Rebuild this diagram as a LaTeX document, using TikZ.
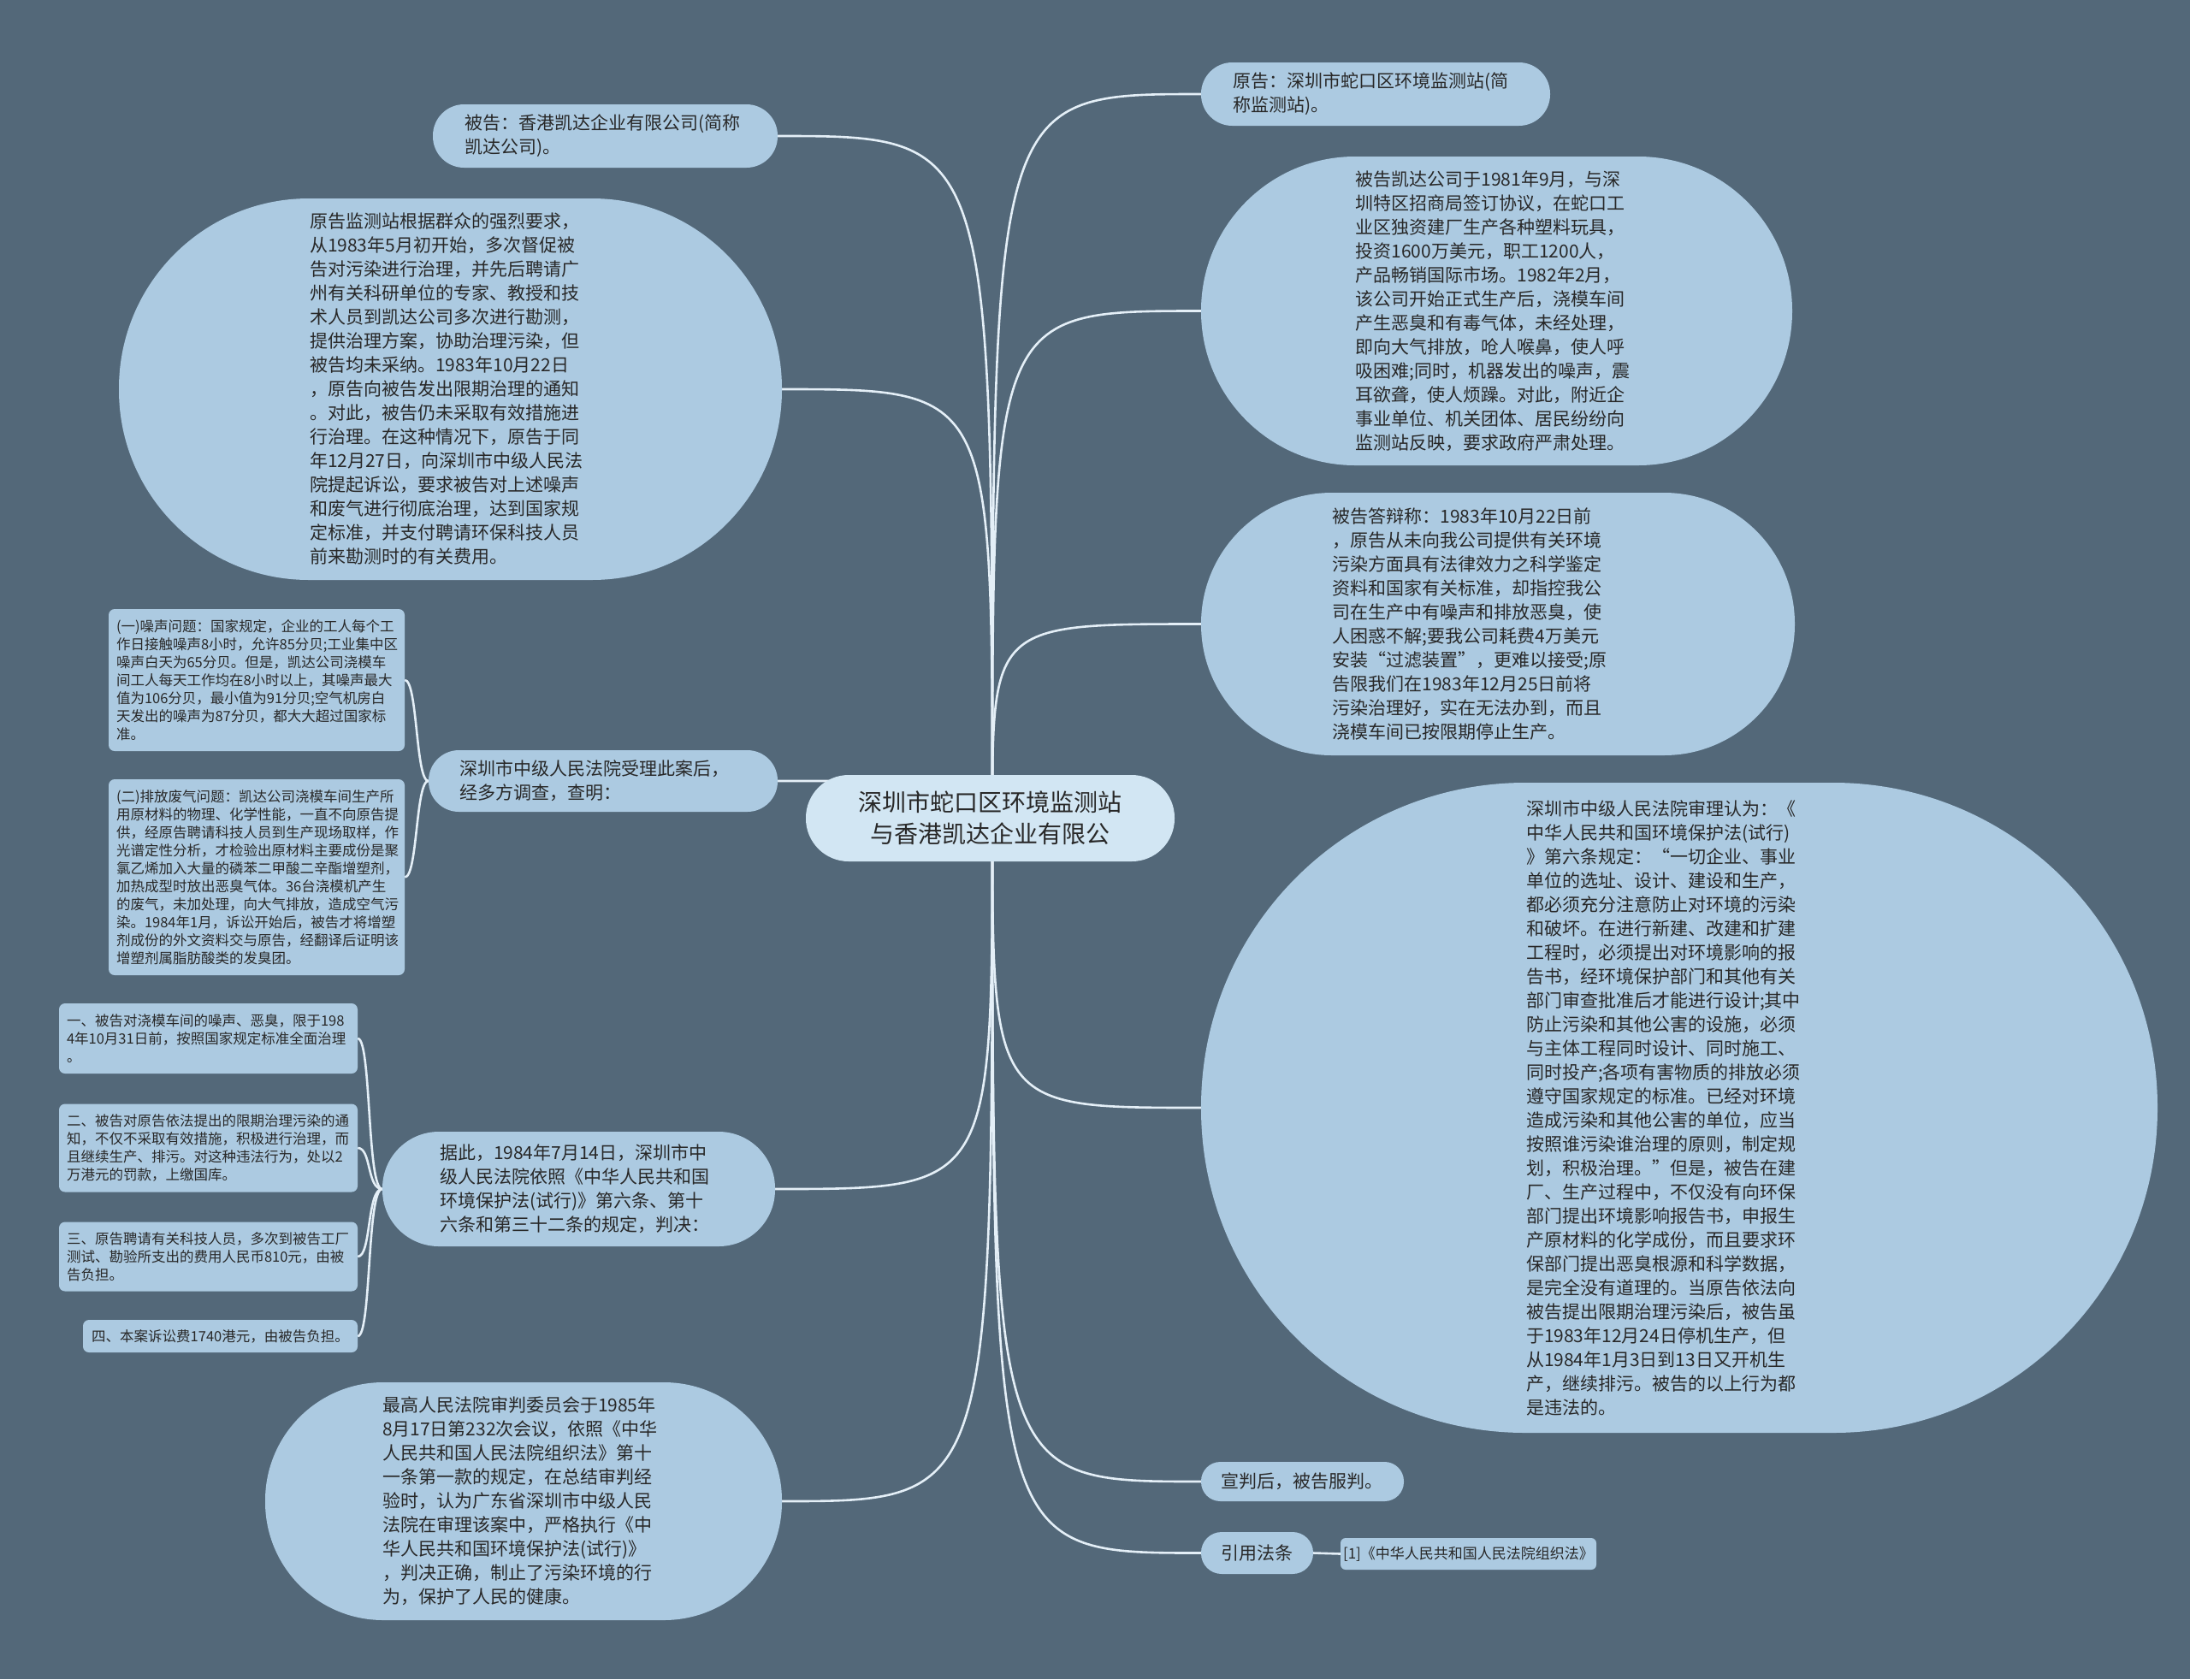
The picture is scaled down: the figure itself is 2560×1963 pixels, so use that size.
\documentclass[tikz,border=0pt]{standalone}
\usepackage{fontspec}
\setmainfont{Noto Sans CJK SC}
\pgfdeclarelayer{bg}
\pgfsetlayers{bg,main}
\definecolor{bgc}{RGB}{83,104,121}
\definecolor{nodefill}{RGB}{172,202,225}
\definecolor{centerfill}{RGB}{210,230,243}
\definecolor{txt}{RGB}{40,40,40}
\definecolor{linec}{RGB}{228,239,247}
\begin{document}
\begin{tikzpicture}[x=1pt,y=-1pt,
  pill/.style={rectangle, fill=nodefill, text=txt, inner sep=0pt, align=left,
    font=\fontsize{21}{28}\selectfont},
  box/.style={rectangle, rounded corners=7pt, fill=nodefill, text=txt, inner sep=0pt,
    align=left, font=\fontsize{16.5}{21}\selectfont},
  conn/.style={draw=linec, line width=2.6pt}]
\useasboundingbox (0,0) rectangle (2560,1963);

% center
\node[pill, fill=centerfill, align=center, rounded corners=50pt, minimum width=431pt, minimum height=101pt,
  font=\fontsize{28}{37}\selectfont] (center) at (1157.5,956.5)
  {深圳市蛇口区环境监测站\\与香港凯达企业有限公};

% right side
\node[pill, rounded corners=36.5pt, minimum width=408pt, minimum height=74pt, text width=334pt] (yuangao) at (1608,110)
  {原告：深圳市蛇口区环境监测站(简\\称监测站)。};
\node[pill, rounded corners=180pt, minimum width=691pt, minimum height=361pt, text width=330pt] (kaida) at (1749.5,363.5)
  {被告凯达公司于1981年9月，与深\\圳特区招商局签订协议，在蛇口工\\业区独资建厂生产各种塑料玩具，\\投资1600万美元，职工1200人，\\产品畅销国际市场。1982年2月，\\该公司开始正式生产后，浇模车间\\产生恶臭和有毒气体，未经处理，\\即向大气排放，呛人喉鼻，使人呼\\吸困难;同时，机器发出的噪声，震\\耳欲聋，使人烦躁。对此，附近企\\事业单位、机关团体、居民纷纷向\\监测站反映，要求政府严肃处理。};
\node[pill, rounded corners=153pt, minimum width=694pt, minimum height=307pt, text width=387pt] (dabian) at (1751,729.5)
  {被告答辩称：1983年10月22日前\\，原告从未向我公司提供有关环境\\污染方面具有法律效力之科学鉴定\\资料和国家有关标准，却指控我公\\司在生产中有噪声和排放恶臭，使\\人困惑不解;要我公司耗费4万美元\\安装“过滤装置”，更难以接受;原\\告限我们在1983年12月25日前将\\污染治理好，实在无法办到，而且\\浇模车间已按限期停止生产。};
\node[pill, rounded corners=379pt, minimum width=1118pt, minimum height=760pt, text width=358pt] (bigright) at (1963,1295)
  {深圳市中级人民法院审理认为：《\\中华人民共和国环境保护法(试行)\\》第六条规定：“一切企业、事业\\单位的选址、设计、建设和生产，\\都必须充分注意防止对环境的污染\\和破坏。在进行新建、改建和扩建\\工程时，必须提出对环境影响的报\\告书，经环境保护部门和其他有关\\部门审查批准后才能进行设计;其中\\防止污染和其他公害的设施，必须\\与主体工程同时设计、同时施工、\\同时投产;各项有害物质的排放必须\\遵守国家规定的标准。已经对环境\\造成污染和其他公害的单位，应当\\按照谁污染谁治理的原则，制定规\\划，积极治理。”但是，被告在建\\厂、生产过程中，不仅没有向环保\\部门提出环境影响报告书，申报生\\产原材料的化学成份，而且要求环\\保部门提出恶臭根源和科学数据，\\是完全没有道理的。当原告依法向\\被告提出限期治理污染后，被告虽\\于1983年12月24日停机生产，但\\从1984年1月3日到13日又开机生\\产，继续排污。被告的以上行为都\\是违法的。};
\node[pill, rounded corners=22.5pt, minimum width=237pt, minimum height=46pt, text width=191pt] (xuanpan) at (1522.5,1732)
  {宣判后，被告服判。};
\node[pill, rounded corners=24pt, minimum width=131pt, minimum height=49pt, text width=84pt] (yinyong) at (1469.5,1815.5)
  {引用法条};
\node[box, rounded corners=6pt, minimum width=299pt, minimum height=37pt, font=\fontsize{17}{21}\selectfont] (ref1) at (1716.5,1816.5)
  {[1]《中华人民共和国人民法院组织法》};

% left side
\node[pill, rounded corners=36.5pt, minimum width=403pt, minimum height=74pt, text width=329pt] (beigao) at (707.5,159)
  {被告：香港凯达企业有限公司(简称\\凯达公司)。};
\node[pill, rounded corners=222pt, minimum width=775pt, minimum height=446pt, text width=329pt] (leftell) at (526.5,455)
  {原告监测站根据群众的强烈要求，\\从1983年5月初开始，多次督促被\\告对污染进行治理，并先后聘请广\\州有关科研单位的专家、教授和技\\术人员到凯达公司多次进行勘测，\\提供治理方案，协助治理污染，但\\被告均未采纳。1983年10月22日\\，原告向被告发出限期治理的通知\\。对此，被告仍未采取有效措施进\\行治理。在这种情况下，原告于同\\年12月27日，向深圳市中级人民法\\院提起诉讼，要求被告对上述噪声\\和废气进行彻底治理，达到国家规\\定标准，并支付聘请环保科技人员\\前来勘测时的有关费用。};
\node[pill, rounded corners=35.5pt, minimum width=408pt, minimum height=72pt, text width=336pt] (shencha) at (705,913)
  {深圳市中级人民法院受理此案后，\\经多方调查，查明：};
\node[box, minimum width=346pt, minimum height=166pt, text width=328pt] (n1) at (300,795)
  {(一)噪声问题：国家规定，企业的工人每个工\\作日接触噪声8小时，允许85分贝;工业集中区\\噪声白天为65分贝。但是，凯达公司浇模车\\间工人每天工作均在8小时以上，其噪声最大\\值为106分贝，最小值为91分贝;空气机房白\\天发出的噪声为87分贝，都大大超过国家标\\准。};
\node[box, minimum width=346pt, minimum height=229pt, text width=328pt] (n2) at (300,1025.5)
  {(二)排放废气问题：凯达公司浇模车间生产所\\用原材料的物理、化学性能，一直不向原告提\\供，经原告聘请科技人员到生产现场取样，作\\光谱定性分析，才检验出原材料主要成份是聚\\氯乙烯加入大量的磷苯二甲酸二辛酯增塑剂，\\加热成型时放出恶臭气体。36台浇模机产生\\的废气，未加处理，向大气排放，造成空气污\\染。1984年1月，诉讼开始后，被告才将增塑\\剂成份的外文资料交与原告，经翻译后证明该\\增塑剂属脂肪酸类的发臭团。};
\node[pill, rounded corners=66pt, minimum width=459pt, minimum height=134pt, text width=325pt] (judge) at (676.5,1390)
  {据此，1984年7月14日，深圳市中\\级人民法院依照《中华人民共和国\\环境保护法(试行)》第六条、第十\\六条和第三十二条的规定，判决：};
\node[box, minimum width=349pt, minimum height=82pt, text width=331pt] (j1) at (243.5,1214)
  {一、被告对浇模车间的噪声、恶臭，限于198\\4年10月31日前，按照国家规定标准全面治理\\。};
\node[box, minimum width=349pt, minimum height=103pt, text width=331pt] (j2) at (243.5,1342)
  {二、被告对原告依法提出的限期治理污染的通\\知，不仅不采取有效措施，积极进行治理，而\\且继续生产、排污。对这种违法行为，处以2\\万港元的罚款，上缴国库。};
\node[box, minimum width=349pt, minimum height=81pt, text width=331pt] (j3) at (243.5,1469)
  {三、原告聘请有关科技人员，多次到被告工厂\\测试、勘验所支出的费用人民币810元，由被\\告负担。};
\node[box, minimum width=321pt, minimum height=38pt] (j4) at (257.5,1562)
  {四、本案诉讼费1740港元，由被告负担。};
\node[pill, rounded corners=138pt, minimum width=604pt, minimum height=278pt, text width=330pt] (supreme) at (612,1755)
  {最高人民法院审判委员会于1985年\\8月17日第232次会议，依照《中华\\人民共和国人民法院组织法》第十\\一条第一款的规定，在总结审判经\\验时，认为广东省深圳市中级人民\\法院在审理该案中，严格执行《中\\华人民共和国环境保护法(试行)》\\，判决正确，制止了污染环境的行\\为，保护了人民的健康。};

% background and connectors (behind the nodes)
\coordinate (c0) at (1160,957);
\begin{pgfonlayer}{bg}
\fill[bgc] (0,0) rectangle (2560,1963);
\foreach \r in {yuangao,kaida,dabian,bigright,xuanpan,yinyong}
  \draw[conn] (c0) .. controls (c0 |- \r.west) .. (\r.west);
\foreach \l in {beigao,leftell,shencha,judge,supreme}
  \draw[conn] (c0) .. controls (c0 |- \l.east) .. (\l.east);
\foreach \k in {n1,n2}
  \draw[conn] (shencha.west) .. controls +(-15,0) and +(15,0) .. (\k.east);
\foreach \k in {j1,j2,j3,j4}
  \draw[conn] (judge.west) .. controls +(-18,0) and +(16,0) .. (\k.east);
\draw[conn] (yinyong.east) -- (ref1.west);
\end{pgfonlayer}
\end{tikzpicture}
\end{document}
